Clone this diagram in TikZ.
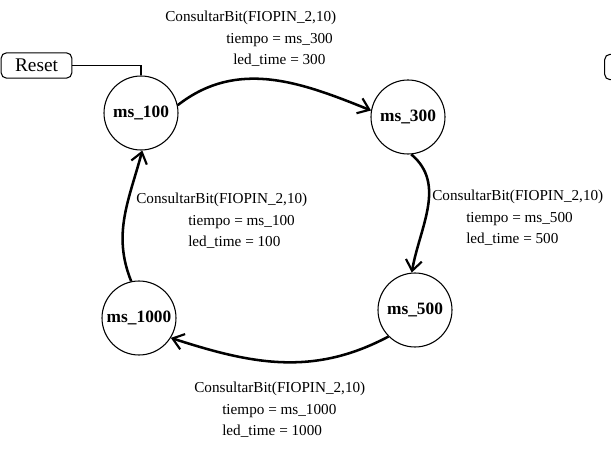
\documentclass[tikz,border=0pt]{standalone}
\usepackage{fontspec}
\setmainfont{Liberation Serif}
\usetikzlibrary{arrows.meta, math}

\begin{document}
\begin{tikzpicture}[x=0.75pt,y=-0.75pt,
  state/.style={circle,draw,line width=0.8pt,minimum size=55.5pt,inner sep=0pt,font=\fontsize{13}{15}\selectfont\bfseries},
  trans/.style={line width=1.9pt,-{Straight Barb[length=8pt,width=12pt,line width=1.6pt]}},
  lbl/.style={anchor=north west,inner sep=0pt,align=left,font=\fontsize{11.4}{15.9}\selectfont},
  resetbox/.style={draw,rounded corners=4pt,line width=0.8pt,minimum width=53pt,minimum height=19pt,inner sep=0pt,font=\fontsize{14.5}{16}\selectfont}]

\tikzmath{
\W = 611;
\H = 459;
}
\useasboundingbox (0,0) rectangle (\W,\H);
\clip (0,0) rectangle (\W,\H);

% states
\node[state] (n100) at (141,113) {ms\_100};
\node[state] (n300) at (408,117) {ms\_300};
\node[state] (n500) at (415,310) {ms\_500};
\node[state] (n1000) at (139,318) {ms\_1000};

% reset
\node[resetbox] (reset) at (36.5,65.5) {Reset};
\node[resetbox] (other) at (640,67) {};
\draw[line width=0.8pt] (reset.east) -| (n100.north);

% transitions
\draw[trans] (n100.12) to[out=38,in=158] (n300.170);
\draw[trans] (n300.-85) to[out=-40,in=80] (n500.95);
\draw[trans] (n500.225) to[out=208,in=-18] (n1000.-32);
\draw[trans] (n1000.102) to[out=112,in=-105] (n100.-88);

% labels
\node[lbl] (l13) at (165,11) {ConsultarBit(FIOPIN\_2,10)\\\hspace*{45.75pt}tiempo = ms\_300\\\hspace*{51pt}led\_time = 300};
\node[lbl] (l35) at (432,190) {ConsultarBit(FIOPIN\_2,10)\\\hspace*{25.5pt}tiempo = ms\_500\\\hspace*{25.5pt}led\_time = 500};
\node[lbl] (l01) at (136,193) {ConsultarBit(FIOPIN\_2,10)\\\hspace*{39pt}tiempo = ms\_100\\\hspace*{39pt}led\_time = 100};
\node[lbl] (l50) at (194,382) {ConsultarBit(FIOPIN\_2,10)\\\hspace*{21pt}tiempo = ms\_1000\\\hspace*{21pt}led\_time = 1000};

\end{tikzpicture}
\end{document}
